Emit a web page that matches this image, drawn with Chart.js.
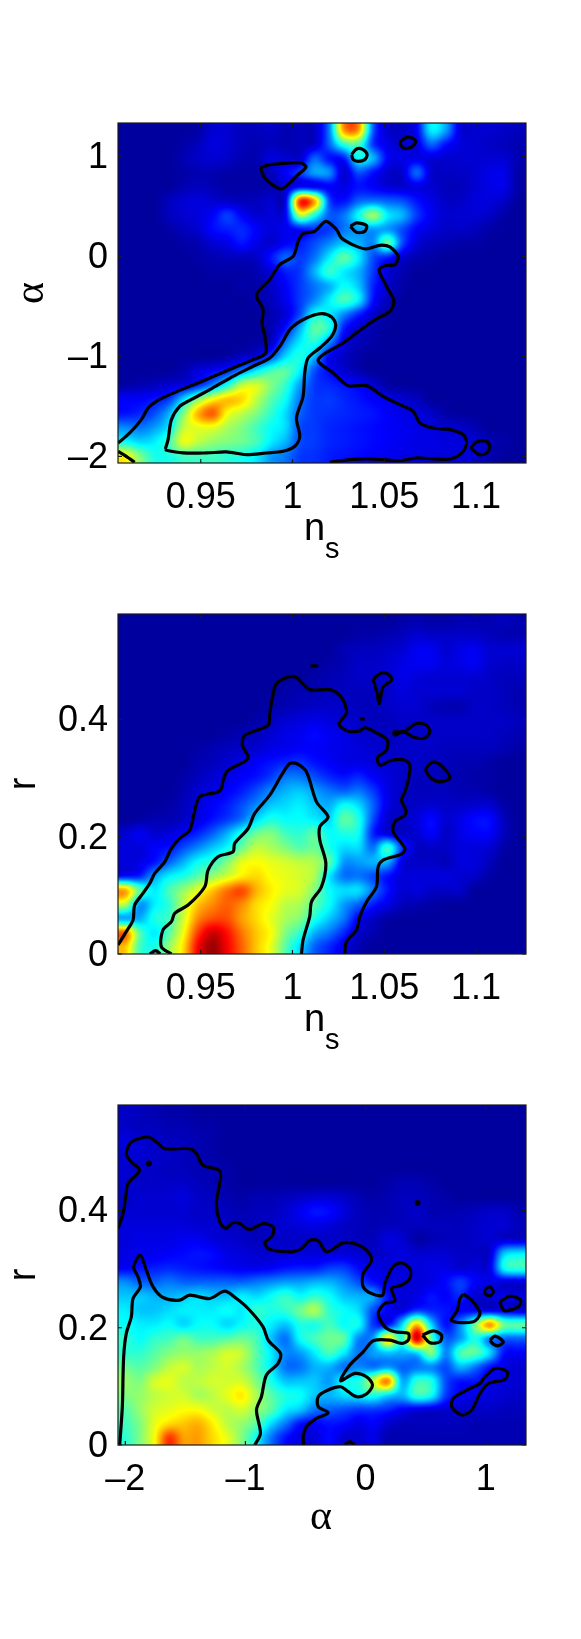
<!DOCTYPE html>
<html>
<head>
<meta charset="utf-8">
<title>Parameter constraints</title>
<script src="https://cdn.jsdelivr.net/npm/chart.js@4"></script>
<style>
  html, body { margin: 0; padding: 0; background: #fff; }
  body { position: relative; width: 581px; height: 1639px; overflow: hidden; }
  canvas { position: absolute; left: 0; }
</style>
</head>
<body>
<canvas id="panelA" width="581" height="490" style="top:103px"></canvas>
<canvas id="panelB" width="581" height="490" style="top:594px"></canvas>
<canvas id="panelC" width="581" height="490" style="top:1085px"></canvas>
<script>
/* =========================
   AXES
========================= */

const nsRange = [0.9049, 1.1273];
const alphaRange = [-2.067, 1.333];
const alphaRangeWide = [-2.061, 1.336];
const rRange = [0, 0.58];

const nsTicks = [0.95, 1, 1.05, 1.1];
const nsTickLabels = ["0.95", "1", "1.05", "1.1"];
const alphaTicks = [-2, -1, 0, 1];
const alphaTickLabels = ["\u20132", "\u20131", "0", "1"];
const rTicks = [0, 0.2, 0.4];
const rTickLabels = ["0", "0.2", "0.4"];

/* =========================
   DENSITY GRIDS (top row first, 0-100 on the colour scale)
========================= */

const densityAlphaNs = [
  [3,3,3,3,3,4,8,8,6,6,7,5,6,7,25,72,72,22,8,7,12,36,28,9,8,8,7,6],
  [3,3,3,3,4,6,9,8,6,5,6,5,6,8,22,42,45,18,10,8,10,22,14,9,8,7,6,5],
  [3,3,3,3,5,7,8,7,5,5,9,8,8,22,14,15,38,30,12,10,10,9,8,8,8,8,8,5],
  [3,3,3,3,4,5,5,4,4,4,6,12,18,28,26,8,20,14,8,8,22,8,7,7,8,10,10,4],
  [3,3,3,3,5,6,5,4,4,4,5,8,13,12,12,10,14,12,9,8,10,8,6,6,8,10,10,4],
  [3,3,3,6,8,9,8,7,6,6,8,11,82,70,20,14,22,24,22,20,14,10,7,7,9,9,7,3],
  [3,3,3,6,8,9,12,18,12,8,9,12,55,40,22,24,38,52,36,30,18,11,8,8,8,7,4,3],
  [3,3,3,4,6,8,13,15,16,12,9,11,14,17,18,24,28,28,28,20,12,9,7,7,6,4,3,3],
  [3,3,3,3,4,5,8,10,14,10,8,12,15,20,26,32,30,26,46,20,9,6,5,4,4,3,3,3],
  [3,3,3,3,3,4,5,6,6,7,14,22,18,24,36,46,36,20,15,8,5,4,3,3,3,3,3,3],
  [3,3,3,3,3,3,4,4,4,5,9,15,18,30,42,36,30,18,9,5,3,3,3,3,3,3,3,3],
  [3,3,3,3,3,3,3,3,4,4,7,12,18,24,30,38,32,16,8,4,3,3,3,3,3,3,3,3],
  [3,3,3,3,3,3,3,3,3,4,6,11,18,26,36,44,36,14,6,3,3,3,3,3,3,3,3,3],
  [3,3,3,3,3,3,3,3,3,3,5,9,20,38,36,26,16,8,4,3,3,3,3,3,3,3,3,3],
  [3,3,3,3,3,3,3,3,3,3,5,14,30,46,40,15,8,5,3,3,3,3,3,3,3,3,3,3],
  [3,3,3,3,3,3,3,3,3,4,7,24,36,40,26,10,6,4,3,3,3,3,3,3,3,3,3,3],
  [3,3,3,3,3,3,3,4,7,10,20,34,40,30,12,7,4,3,3,3,3,3,3,3,3,3,3,3],
  [3,3,3,3,5,9,12,16,26,36,44,46,36,20,13,8,5,3,3,3,3,3,3,3,3,3,3,3],
  [4,5,6,8,10,16,26,40,56,58,50,42,28,18,16,14,12,8,4,3,3,3,3,3,3,3,3,3],
  [12,12,14,18,34,50,62,68,66,56,46,38,24,18,18,16,14,12,10,8,6,3,3,3,3,3,3,3],
  [14,16,20,30,50,70,78,62,56,50,42,34,22,18,17,16,15,14,12,10,9,7,4,3,3,3,3,3],
  [26,24,28,36,56,60,60,54,50,44,38,34,20,18,16,15,14,13,12,11,10,9,8,7,5,3,3,3],
  [38,34,36,44,60,56,52,50,48,44,36,30,20,18,16,15,14,13,12,11,10,10,9,9,8,5,4,3],
  [62,50,40,40,44,44,44,42,40,36,28,24,18,17,15,14,13,12,11,10,10,9,9,9,8,5,3,3]
];

const densityRNs = [
  [3,3,3,3,3,3,3,3,3,3,3,3,3,3,3,3,3,3,3,4,5,4,4,5,5,5,6,5],
  [3,3,3,3,3,3,3,3,3,3,3,3,3,3,3,3,4,4,5,6,8,7,7,7,7,6,5,5],
  [3,3,3,3,3,3,3,3,3,3,3,3,3,3,3,5,6,6,7,8,11,11,8,10,11,8,8,8],
  [3,3,3,3,3,3,3,3,3,3,3,3,3,3,4,5,7,7,8,10,11,11,9,10,11,8,7,7],
  [3,3,3,3,3,3,3,3,3,3,3,3,3,4,5,6,7,7,8,10,9,8,8,8,8,7,6,6],
  [3,3,3,3,3,3,3,3,3,3,3,4,5,5,6,6,6,6,7,9,8,8,8,8,7,7,6,5],
  [3,3,3,3,3,3,3,3,3,3,4,5,6,7,7,7,6,6,7,8,8,6,5,5,7,7,6,5],
  [3,3,3,3,3,3,3,3,3,4,6,8,9,10,9,8,7,6,6,7,7,7,7,7,7,7,7,6],
  [3,3,3,3,3,3,3,4,5,6,8,10,11,13,11,10,8,7,6,7,7,7,7,7,7,7,6,5],
  [3,3,3,3,3,4,5,6,7,8,10,11,12,12,11,10,9,8,7,7,7,7,6,6,6,6,5,4],
  [3,3,3,3,3,5,6,8,10,12,14,16,17,14,12,10,10,9,8,7,7,6,6,5,5,4,3,3],
  [3,3,3,3,4,6,8,10,12,14,18,24,24,20,16,14,16,12,9,7,6,6,5,5,4,4,3,3],
  [3,3,3,3,5,8,10,12,15,20,26,30,32,28,24,22,24,18,10,7,6,6,6,5,5,4,3,3],
  [3,3,3,4,6,9,12,15,20,26,32,34,36,32,30,38,34,22,10,7,7,8,7,7,8,8,4,3],
  [3,4,5,5,7,10,14,18,24,34,40,38,38,36,34,46,40,20,8,7,9,13,8,10,13,13,6,3],
  [8,11,8,9,12,16,22,30,40,48,50,44,42,46,38,40,38,16,10,7,8,12,7,10,12,12,6,3],
  [9,9,12,14,20,26,32,38,48,56,54,50,46,48,40,34,34,24,42,18,7,7,7,9,9,8,4,3],
  [9,10,14,22,30,38,42,50,60,62,60,58,56,54,46,28,28,30,30,10,7,7,6,9,9,6,3,3],
  [14,16,28,36,40,46,52,58,64,66,62,60,58,54,36,24,24,20,14,9,9,9,9,8,7,4,3,3],
  [70,46,36,44,52,60,68,76,80,70,64,60,58,50,38,34,34,24,14,8,9,7,7,7,3,3,3,3],
  [55,28,36,42,56,68,74,78,74,66,62,56,54,46,38,28,22,15,10,6,5,4,3,3,3,3,3,3],
  [30,30,40,44,58,74,80,80,72,66,60,54,50,40,32,24,12,7,4,3,3,3,3,3,3,3,3,3],
  [76,46,36,46,62,82,92,86,76,68,62,50,42,30,24,16,8,5,3,3,3,3,3,3,3,3,3,3],
  [68,44,40,52,66,88,97,88,78,68,60,46,34,22,16,10,5,3,3,3,3,3,3,3,3,3,3,3]
];

const densityRAlpha = [
  [7,6,5,4,4,3,3,3,3,3,3,3,3,3,3,3,3,3,3,3,3,3,3,3,3,3,3,3],
  [7,6,6,5,5,4,4,3,3,3,3,3,3,3,3,3,3,3,3,3,3,3,3,3,3,3,3,3],
  [9,8,7,6,6,5,4,3,3,3,3,3,3,3,3,3,3,3,3,3,3,3,3,3,3,3,3,3],
  [8,8,7,7,6,5,4,3,3,3,3,3,3,3,3,3,3,3,3,3,3,3,3,3,3,3,3,3],
  [8,7,7,6,6,5,5,4,3,3,3,3,3,3,3,3,3,3,3,3,3,3,3,3,3,3,3,3],
  [8,7,7,7,7,6,5,4,3,3,3,3,3,3,3,3,3,3,4,5,5,4,3,3,3,3,3,3],
  [7,8,8,8,9,7,6,5,4,5,5,6,7,8,8,7,5,4,5,6,6,5,4,3,3,3,3,3],
  [8,8,8,8,8,7,7,6,5,6,6,8,11,14,13,9,6,5,5,6,7,5,5,5,6,7,7,5],
  [9,9,9,9,9,8,8,7,6,6,7,8,9,10,9,7,6,5,6,6,6,6,6,6,7,8,8,6],
  [9,10,10,10,11,11,9,8,7,6,7,7,7,7,7,7,6,6,9,8,4,5,6,6,7,8,8,8],
  [10,11,11,12,13,14,13,10,9,8,8,9,9,9,9,9,8,7,8,9,8,8,8,7,7,8,32,36],
  [12,14,15,16,15,14,13,12,11,11,12,14,15,15,18,18,13,10,9,9,9,10,10,8,9,10,38,42],
  [26,22,22,24,22,22,22,22,22,24,26,28,28,30,30,26,20,14,10,9,9,10,13,18,12,10,9,9],
  [32,32,30,30,32,34,32,32,36,34,38,42,38,42,38,32,30,28,14,9,10,14,12,16,8,9,10,9],
  [36,32,32,34,36,36,36,38,36,42,40,42,48,54,42,38,34,20,12,10,18,16,14,12,12,11,11,9],
  [38,36,36,38,34,38,38,34,38,40,36,32,40,40,44,38,38,18,14,34,68,34,14,26,48,72,48,46],
  [42,38,42,44,48,44,44,46,48,44,32,24,38,44,48,46,26,28,65,42,90,46,22,28,40,26,22,22],
  [42,42,46,50,52,52,54,58,56,46,36,26,28,36,44,36,24,28,32,30,34,50,26,44,46,34,14,12],
  [48,46,50,56,58,54,56,58,54,46,36,24,24,30,30,24,26,24,28,22,24,26,20,30,24,14,10,8],
  [52,50,58,60,56,56,58,58,58,50,40,32,32,32,28,38,40,56,74,30,42,40,20,14,14,10,9,8],
  [50,52,56,58,58,54,56,60,64,54,46,40,38,32,30,34,36,40,34,30,42,38,18,12,10,9,8,7],
  [46,52,58,60,62,62,58,56,58,52,46,36,32,24,22,20,18,18,16,12,10,9,8,7,7,7,6,6],
  [44,50,60,66,68,70,64,56,52,46,34,24,14,12,14,13,10,12,8,6,6,6,6,6,5,5,5,5],
  [42,50,62,82,72,72,66,60,50,38,24,14,10,9,13,8,8,10,5,5,5,5,5,5,5,5,5,5]
];

/* =========================
   CONTOURS: alpha vs ns
========================= */

const alphaNsOuter = [[.9049,-1.8667],[.9113,-1.7667],[.9176,-1.6333],[.9213,-1.5167],[.9258,-1.45],[.9331,-1.3833],[.944,-1.3],[.9549,-1.2167],[.9676,-1.1167],[.9785,-1.0333],[.9854,-.9667],[.9849,-.8],[.9834,-.6667],[.984,-.5333],[.9804,-.3833],[.9876,-.2333],[.9931,-.0833],[1.0004,0],[1.0031,.15],[1.0058,.2267],[1.0122,.25],[1.0182,.35],[1.024,.2667],[1.0267,.1833],[1.034,.1067],[1.0404,.0733],[1.0476,.11],[1.0531,.0933],[1.0576,0],[1.0558,-.0833],[1.0504,-.0933],[1.0473,-.14],[1.0513,-.3],[1.0553,-.45],[1.0531,-.55],[1.0467,-.6167],[1.0385,-.7167],[1.0276,-.8667],[1.014,-1.0333],[1.0222,-1.1667],[1.0304,-1.2933],[1.0404,-1.2933],[1.0494,-1.4],[1.0585,-1.4833],[1.0658,-1.55],[1.0695,-1.6667],[1.0767,-1.7167],[1.0858,-1.7333],[1.0931,-1.7833],[1.0949,-1.8667],[1.0922,-1.9667],[1.0858,-2.0267],[1.0767,-2.0267],[1.0676,-2.0167],[1.0585,-2.0433],[1.0494,-2.0333],[1.0404,-2.0267],[1.0313,-2.0333],[1.0204,-2.06]];
const alphaNsInner = [[.9307,-1.9267],[.9322,-1.8333],[.934,-1.6333],[.9385,-1.5],[.944,-1.44],[.9549,-1.3333],[.9676,-1.2],[.9785,-1.1],[.9876,-1.0167],[.9931,-.9],[.9994,-.7167],[1.0076,-.6167],[1.0158,-.5733],[1.0213,-.6067],[1.0236,-.6833],[1.0213,-.8],[1.0149,-.9167],[1.0085,-1.0167],[1.0067,-1.1667],[1.0058,-1.4],[1.0022,-1.6167],[1.004,-1.8],[1.0013,-1.9],[.9949,-1.95],[.9858,-1.9667],[.9749,-1.9833],[.964,-1.9567],[.9531,-1.9667],[.9404,-1.9667],[.9313,-1.94],[.9307,-1.9267]];
const alphaNsCorner = [[.9049,-1.95],[.9094,-2],[.914,-2.06]];
const alphaNsLoopA = [[.9825,.8833],[.9876,.9167],[.9985,.9333],[1.0049,.9333],[1.0073,.8933],[1.0031,.8167],[.9985,.7333],[.994,.6733],[.9904,.7],[.9849,.7833],[.9825,.8833]];
const alphaNsLoopB = [[1.0322,1.0167],[1.0349,1.0733],[1.0385,1.0667],[1.0407,1.0167],[1.0394,.9667],[1.0358,.95],[1.0331,.9667],[1.0322,1.0167]];
const alphaNsLoopC = [[1.0582,1.14],[1.0631,1.1933],[1.0673,1.15],[1.0649,1.0933],[1.0604,1.0833],[1.0582,1.14]];
const alphaNsLoopD = [[1.0316,.3],[1.0349,.3333],[1.0404,.3067],[1.0394,.25],[1.0349,.24],[1.0316,.3]];
const alphaNsLoopE = [[1.0971,-1.9167],[1.1004,-1.8567],[1.1058,-1.85],[1.1076,-1.9067],[1.1058,-1.9667],[1.1018,-1.9833],[1.0971,-1.9167]];

/* =========================
   CONTOURS: r vs ns
========================= */

const rNsOuter = [[.9049,.0153],[.9094,.0381],[.9131,.0579],[.914,.0835],[.9185,.1034],[.9222,.1204],[.9249,.1375],[.9304,.1573],[.934,.1801],[.9385,.1971],[.944,.2113],[.9464,.2397],[.9494,.2681],[.9604,.2783],[.9625,.2993],[.9649,.3135],[.9758,.3334],[.9727,.3561],[.974,.3732],[.9867,.3902],[.9876,.4101],[.9895,.4442],[.9913,.4612],[.9976,.4726],[1.0022,.4714],[1.0094,.451],[1.0204,.451],[1.0258,.4413],[1.0285,.4271],[1.0294,.4112],[1.0254,.3919],[1.0304,.38],[1.0367,.3806],[1.0394,.3862],[1.0458,.3772],[1.0516,.3658],[1.0513,.3476],[1.0464,.3351],[1.0476,.3221],[1.054,.3306],[1.0613,.3306],[1.064,.3221],[1.0631,.2965],[1.0613,.2766],[1.0594,.2624],[1.0618,.2454],[1.0613,.2369],[1.0558,.2255],[1.0549,.2085],[1.0613,.1801],[1.0594,.1704],[1.0494,.1602],[1.0467,.1488],[1.0458,.1147],[1.0404,.0892],[1.0367,.0636],[1.0349,.0409],[1.0294,.021],[1.0285,0]];
const rNsInner = [[1.0049,0],[1.0058,.0239],[1.0094,.0636],[1.0104,.0892],[1.0158,.1147],[1.0182,.1545],[1.0149,.1943],[1.0149,.217],[1.0194,.234],[1.0131,.2596],[1.0076,.3107],[1.0022,.3249],[.9985,.3249],[.994,.305],[.9876,.2709],[.9794,.2397],[.9758,.2141],[.9685,.1886],[.9676,.1744],[.9594,.1659],[.954,.1431],[.9522,.1147],[.9431,.0835],[.9358,.0693],[.934,.0551],[.9294,.0409],[.9285,.0125],[.934,0]];
const rNsBump = [[.9222,0],[.9254,.0057],[.928,0]];
const rNsDash = [[1.0098,.4913],[1.014,.4913]];
const rNsSpeck = [[1.0367,.401],[1.0394,.401]];
const rNsLoopA = [[1.044,.468],[1.0476,.4783],[1.0516,.4783],[1.0542,.468],[1.0494,.4555],[1.0473,.4271],[1.0462,.4442],[1.044,.468]];
const rNsLoopB = [[1.0549,.3789],[1.0613,.3806],[1.0676,.3931],[1.0731,.3902],[1.0749,.3789],[1.0722,.3686],[1.0667,.3692],[1.0604,.3789],[1.0558,.3732],[1.0549,.3789]];
const rNsLoopC = [[1.074,.3221],[1.0767,.3277],[1.0813,.3209],[1.0858,.3005],[1.0804,.2937],[1.0758,.2993],[1.0727,.3135],[1.074,.3221]];

/* =========================
   CONTOURS: r vs alpha
========================= */

const rAlphaOuter = [[-2.061,.3692],[-2.019,.3948],[-1.997,.4232],[-1.978,.4459],[-1.881,.4686],[-1.95,.4828],[-1.992,.497],[-1.95,.5169],[-1.811,.5254],[-1.742,.5169],[-1.672,.5055],[-1.464,.5055],[-1.408,.497],[-1.353,.4771],[-1.219,.4686],[-1.208,.4544],[-1.242,.4118],[-1.214,.3806],[-1.164,.3692],[-1.103,.3794],[-1.047,.3777],[-.969,.3675],[-.853,.3777],[-.769,.372],[-.775,.3578],[-.839,.3448],[-.797,.3334],[-.603,.3294],[-.533,.3351],[-.464,.3493],[-.394,.3482],[-.325,.3294],[-.186,.3448],[-.075,.3425],[.008,.3323],[.05,.3152],[-.019,.2925],[-.019,.2698],[.05,.2584],[.142,.2556],[.161,.2755],[.231,.305],[.3,.3107],[.369,.301],[.369,.284],[.3,.2726],[.217,.267],[.244,.2459],[.161,.2414],[.106,.2244],[.161,.2016],[.244,.1931],[.356,.1903],[.356,.1789],[.3,.1732],[.203,.1789],[.064,.1778],[-.019,.159],[-.131,.1363],[-.208,.1096],[-.089,.1221],[.008,.1164],[.058,.1022],[.008,.0869],[-.075,.0824],[-.144,.0909],[-.208,.0994],[-.325,.0926],[-.394,.0824],[-.394,.0653],[-.311,.0551],[-.408,.0454],[-.492,.0312],[-.519,.0142],[-.514,0]];
const rAlphaInner = [[-2.047,0],[-2.025,.0653],[-2.014,.1505],[-1.992,.1903],[-1.95,.2187],[-1.936,.2499],[-1.875,.2698],[-1.894,.2868],[-1.931,.3039],[-1.875,.3238],[-1.825,.2982],[-1.769,.2698],[-1.686,.2516],[-1.547,.2471],[-1.464,.2556],[-1.297,.2499],[-1.172,.2624],[-1.075,.2499],[-.978,.2329],[-.853,.2016],[-.811,.1789],[-.708,.1562],[-.728,.1392],[-.825,.1193],[-.867,.0824],[-.908,.0596],[-.875,.0199],[-.922,0]];
const rAlphaBump = [[-.172,0],[-.136,.0057],[-.089,0]];
const rAlphaDots = [[-1.803,.48],[.433,.4129]];
const rAlphaLoopA = [[.475,.1874],[.564,.1948],[.633,.1874],[.619,.1761],[.536,.1744],[.475,.1874]];
const rAlphaLoopB = [[.814,.2573],[.883,.2471],[.953,.2244],[.897,.2102],[.717,.2119],[.764,.23],[.786,.2499],[.814,.2573]];
const rAlphaLoopC = [[.994,.2658],[1.036,.2698],[1.064,.2613],[1.036,.2545],[.994,.2584],[.994,.2658]];
const rAlphaLoopD = [[1.119,.2442],[1.203,.2539],[1.292,.2471],[1.272,.2357],[1.161,.2289],[1.133,.2357],[1.119,.2442]];
const rAlphaLoopE = [[1.036,.1789],[1.078,.1857],[1.147,.1761],[1.106,.1693],[1.064,.1721],[1.036,.1789]];
const rAlphaLoopF = [[.994,.1164],[1.078,.1306],[1.181,.125],[1.161,.1119],[1.022,.1051],[.953,.088],[.883,.0596],[.8,.0511],[.717,.0653],[.731,.0795],[.842,.0937],[.953,.1051],[.994,.1164]];

/* =========================
   HELPERS
========================= */

const TICK_FONT = { family: "'Liberation Sans', Arial, sans-serif", size: 36 };

function jet(v) {
  const c = k => Math.max(0, Math.min(1, 1.5 - Math.abs(4 * v - k))) * 255;
  return [c(3), c(2), c(1)];
}

function catmull(a, b, c, d, t) {
  return b + 0.5 * t * (c - a + t * (2 * a - 5 * b + 4 * c - d + t * (3 * (b - c) + d - a)));
}

// value of the grid at fractional row/col
function sampleGrid(grid, gx, gy) {
  const rows = grid.length, cols = grid[0].length;
  const x0 = Math.floor(gx), y0 = Math.floor(gy);
  const tx = gx - x0, ty = gy - y0;
  const vals = [];
  for (let j = -1; j <= 2; j++) {
    const row = grid[Math.max(0, Math.min(rows - 1, y0 + j))];
    const at = i => row[Math.max(0, Math.min(cols - 1, x0 + i))];
    vals.push(catmull(at(-1), at(0), at(1), at(2), tx));
  }
  return catmull(vals[0], vals[1], vals[2], vals[3], ty);
}

// paints the density through the chart's own scales
function heatPlugin(grid) {
  return {
    id: "heat",
    beforeDatasetsDraw(chart) {
      const { ctx, chartArea: a, scales: { x, y } } = chart;
      const w = Math.round(a.right - a.left), h = Math.round(a.bottom - a.top);
      const off = document.createElement("canvas");
      off.width = w;
      off.height = h;
      const octx = off.getContext("2d");
      const img = octx.createImageData(w, h);
      const rows = grid.length, cols = grid[0].length;
      for (let py = 0; py < h; py++) {
        const gy = (y.max - y.getValueForPixel(a.top + py + 0.5)) / (y.max - y.min) * rows - 0.5;
        for (let px = 0; px < w; px++) {
          const gx = (x.getValueForPixel(a.left + px + 0.5) - x.min) / (x.max - x.min) * cols - 0.5;
          const v = Math.max(0, Math.min(100, sampleGrid(grid, gx, gy))) / 100;
          const rgb = jet(v);
          const k = (py * w + px) * 4;
          img.data[k] = rgb[0];
          img.data[k + 1] = rgb[1];
          img.data[k + 2] = rgb[2];
          img.data[k + 3] = 255;
        }
      }
      octx.putImageData(img, 0, 0);
      ctx.drawImage(off, a.left, a.top);
    }
  };
}

// frame, inward ticks and axis titles
function framePlugin(xTitle, yTitle) {
  return {
    id: "frame",
    afterDraw(chart) {
      const { ctx, chartArea: a, scales: { x, y } } = chart;
      ctx.save();
      ctx.strokeStyle = "#1a1a1a";
      ctx.lineWidth = 1.2;
      ctx.strokeRect(a.left, a.top, a.right - a.left, a.bottom - a.top);
      ctx.beginPath();
      x.ticks.forEach(t => {
        const p = x.getPixelForValue(t.value);
        ctx.moveTo(p, a.bottom); ctx.lineTo(p, a.bottom - 4);
        ctx.moveTo(p, a.top); ctx.lineTo(p, a.top + 4);
      });
      y.ticks.forEach(t => {
        const p = y.getPixelForValue(t.value);
        ctx.moveTo(a.left, p); ctx.lineTo(a.left + 4, p);
        ctx.moveTo(a.right, p); ctx.lineTo(a.right - 4, p);
      });
      ctx.stroke();

      ctx.fillStyle = "#000";
      ctx.textBaseline = "alphabetic";
      if (xTitle === "ns") {
        ctx.textAlign = "left";
        ctx.font = "38px 'Liberation Sans'";
        ctx.fillText("n", a.left + 186, a.bottom + 77);
        ctx.font = "29px 'Liberation Sans'";
        ctx.fillText("s", a.left + 207, a.bottom + 95);
      } else {
        ctx.textAlign = "center";
        ctx.font = "42px 'Liberation Serif'";
        ctx.fillText(xTitle, a.left + 203, a.bottom + 84);
      }
      ctx.translate(yTitle === "r" ? 35 : 43, (a.top + a.bottom) / 2);
      ctx.rotate(-Math.PI / 2);
      ctx.textAlign = "center";
      ctx.font = yTitle === "r" ? "38px 'Liberation Sans'" : "42px 'Liberation Serif'";
      ctx.fillText(yTitle, 0, 0);
      ctx.restore();
    }
  };
}

function lineSet(points) {
  return {
    data: points.map(p => ({ x: p[0], y: p[1] })),
    showLine: true,
    fill: false,
    borderColor: "#000",
    borderWidth: 3.2,
    tension: 0.3,
    pointRadius: 0
  };
}

function dotSet(points) {
  return {
    data: points.map(p => ({ x: p[0], y: p[1] })),
    showLine: false,
    pointRadius: 3,
    pointBackgroundColor: "#000",
    pointBorderWidth: 0
  };
}

function axis(range, ticks, labels, extra) {
  return Object.assign({
    type: "linear",
    min: range[0],
    max: range[1],
    grid: { display: false, drawTicks: false },
    border: { display: false },
    afterBuildTicks(scale) { scale.ticks = ticks.map(v => ({ value: v })); },
    ticks: {
      color: "#000",
      font: TICK_FONT,
      autoSkip: false,
      maxRotation: 0,
      callback: (value, i) => labels[i]
    }
  }, extra);
}

function drawPanel(id, padTop, grid, lines, dots, xAxis, yAxis, xTitle, yTitle) {
  const xScale = axis(xAxis.range, xAxis.ticks, xAxis.labels, {
    position: "bottom",
    afterFit(s) {
      s.height = 490 - padTop - 340;
      s.paddingLeft = 0;
      s.paddingRight = 0;
    }
  });
  xScale.ticks.padding = 13;
  const yScale = axis(yAxis.range, yAxis.ticks, yAxis.labels, {
    position: "left",
    afterFit(s) {
      s.width = 118;
      s.paddingTop = 0;
      s.paddingBottom = 0;
    }
  });
  yScale.ticks.padding = 10;
  yScale.ticks.labelOffset = 2;

  new Chart(document.getElementById(id), {
    type: "scatter",
    data: { datasets: lines.map(lineSet).concat(dots ? [dotSet(dots)] : []) },
    options: {
      responsive: false,
      animation: false,
      layout: { padding: { left: 0, right: 55, top: padTop, bottom: 0 } },
      plugins: { legend: { display: false }, tooltip: { enabled: false } },
      scales: { x: xScale, y: yScale }
    },
    plugins: [heatPlugin(grid), framePlugin(xTitle, yTitle)]
  });
}

/* =========================
   PANELS
========================= */

const nsAxis = { range: nsRange, ticks: nsTicks, labels: nsTickLabels };
const rAxis = { range: rRange, ticks: rTicks, labels: rTickLabels };

drawPanel("panelA", 20, densityAlphaNs,
  [alphaNsOuter, alphaNsInner, alphaNsCorner, alphaNsLoopA, alphaNsLoopB, alphaNsLoopC, alphaNsLoopD, alphaNsLoopE],
  null, nsAxis, { range: alphaRange, ticks: alphaTicks, labels: alphaTickLabels }, "ns", "\u03b1");

drawPanel("panelB", 20, densityRNs,
  [rNsOuter, rNsInner, rNsBump, rNsDash, rNsSpeck, rNsLoopA, rNsLoopB, rNsLoopC],
  null, nsAxis, rAxis, "ns", "r");

drawPanel("panelC", 20, densityRAlpha,
  [rAlphaOuter, rAlphaInner, rAlphaBump, rAlphaLoopA, rAlphaLoopB, rAlphaLoopC, rAlphaLoopD, rAlphaLoopE, rAlphaLoopF],
  rAlphaDots, { range: alphaRangeWide, ticks: alphaTicks, labels: alphaTickLabels }, rAxis, "\u03b1", "r");
</script>
</body>
</html>
